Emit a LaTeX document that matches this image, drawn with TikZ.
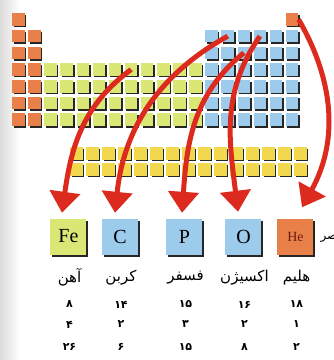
\documentclass[tikz,border=0pt]{standalone}
\usepackage{fontspec}
\setmainfont{Liberation Serif}
\newfontfamily\arabicfont[Script=Arabic]{DejaVu Sans}
\TeXXeTstate=1
\usepackage{xcolor}
\definecolor{ptorange}{HTML}{E9804A}
\definecolor{ptgreen}{HTML}{DAE775}
\definecolor{ptblue}{HTML}{9DCBEC}
\definecolor{ptyellow}{HTML}{F1D84C}
\definecolor{ptred}{HTML}{DC2A1F}
\definecolor{ptdark}{HTML}{6E1A12}
\usetikzlibrary{arrows.meta,positioning,shadows,calc}
\tikzset{
  ptcell/.style={minimum size=12.5pt,inner sep=0pt,anchor=north west,
    drop shadow={shadow xshift=1.6pt,shadow yshift=-1.6pt,fill=black!85,opacity=1}},
  ptbox/.style={minimum size=36pt,inner sep=0pt,font=\fontsize{20}{20}\selectfont,
    drop shadow={shadow xshift=2pt,shadow yshift=-2pt,fill=black!85,opacity=1}},
  ptflow/.style={-{Triangle[width=30pt,length=21pt]},line width=5pt,draw=ptred,
    preaction={draw=black!70,transform canvas={xshift=1.4pt,yshift=-0.9pt}}},
  ptname/.style={font=\arabicfont\fontsize{15}{15}\selectfont},
  ptnum/.style={font=\arabicfont\bfseries\fontsize{11}{11}\selectfont},
}

\begin{document}
\begin{tikzpicture}[x=1pt,y=-1pt]
\useasboundingbox (0,0) rectangle (334,360);
\shade[left color=black!14,right color=white] (0,0) rectangle (20,360);

% main table
\foreach \r in {1,...,7}
  \foreach \c in {1,...,18}{
    \pgfmathtruncatemacro\ptshow{(\r==1 && (\c==1 || \c==18)) || ((\r==2 || \r==3) && (\c<3 || \c>12)) || \r>3}
    \ifnum\ptshow=1
      \pgfmathsetmacro\ptcol{(\c<3 || \r==1) ? 1 : (\c<13 ? 2 : 3)}
      \ifcase\ptcol\or\def\cc{ptorange}\or\def\cc{ptgreen}\else\def\cc{ptblue}\fi
      \node[ptcell,fill=\cc] (c-\r-\c) at ({12+(\c-1)*16.1},{13+(\r-1)*16.7}) {};
    \fi
  }
% lanthanides / actinides
\foreach \r in {1,2}
  \foreach \c in {1,...,15}
    \node[ptcell,fill=ptyellow] (f-\r-\c) at ({70+(\c-1)*16},{147+(\r-1)*16}) {};

% element boxes
\node[ptbox,fill=ptgreen] (fe) at (68.5,236.5) {Fe};
\node[ptbox,fill=ptblue] (cb) at (120,236.5) {C};
\node[ptbox,fill=ptblue] (ph) at (184.5,236.5) {P};
\node[ptbox,fill=ptblue] (ox) at (243.5,236.5) {O};
\node[ptbox,fill=ptorange,text=ptdark,font=\fontsize{14}{14}\selectfont] (he) at (295.5,236.5) {He};
\node[ptname,anchor=west,font=\arabicfont\fontsize{12}{12}\selectfont] (elem) at (317,238) {\beginR عنصر\endR};

% names and numbers
\foreach \el/\nm/\ga/\pe/\zz in {fe/آهن/۸/۴/۲۶, cb/کربن/۱۴/۲/۶, ph/فسفر/۱۵/۳/۱۵, ox/اکسیژن/۱۶/۲/۸, he/هلیم/۱۸/۱/۲}{
  \node[ptname] (\el-name) at ($(\el)+(1,41)$) {\beginR\nm\endR};
  \node[ptnum] (\el-g) at ($(\el)+(1,68)$) {\ga};
  \node[ptnum] (\el-p) at ($(\el)+(1,88)$) {\pe};
  \node[ptnum] (\el-z) at ($(\el)+(1,110.5)$) {\zz};
}

% arrows
\draw[ptflow] (c-4-8.center) to[out=216,in=82] ([xshift=-6.5pt,yshift=5.5pt]fe.north);
\draw[ptflow] (c-2-14.center) to[out=209,in=84] ([xshift=-5pt,yshift=5.5pt]cb.north);
\draw[ptflow] (c-3-15.center) to[out=219,in=86] ([xshift=-2.5pt,yshift=5.5pt]ph.north);
\draw[ptflow] (c-2-16.center) to[out=235,in=97] ([xshift=-5.5pt,yshift=6.5pt]ox.north);
\draw[ptflow] (c-1-18.east) to[out=300,in=61] ([xshift=6.5pt,yshift=11pt]he.north);
\end{tikzpicture}
\end{document}
